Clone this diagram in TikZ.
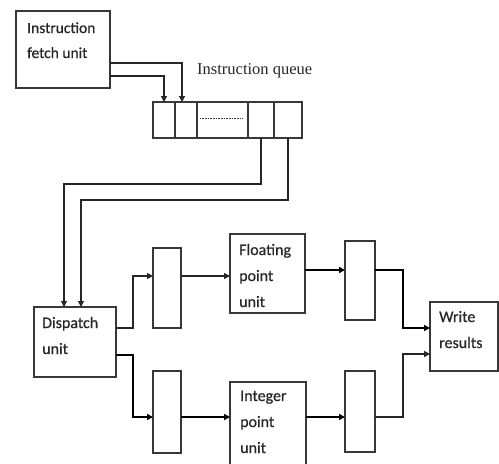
\documentclass[tikz,border=0pt]{standalone}
\usepackage{fontspec}
\setmainfont{Carlito}
\newfontfamily\lblfont[FakeBold=0.6]{Carlito}
\newfontfamily\queuefont{Liberation Serif}
\usetikzlibrary{arrows.meta,calc}
\definecolor{bx}{gray}{0.22}
\begin{document}
\begin{tikzpicture}[x=1pt,y=-1pt,
  box/.style={draw=bx,line width=1.2pt,inner sep=0pt,outer sep=0pt,anchor=north west},
  lbl/.style={anchor=base west,align=left,inner sep=0pt,text=black!85,font=\lblfont\fontsize{16}{26}\selectfont},
  arr/.style={draw=black!85,line width=1.2pt,-{Triangle[length=6pt,width=6pt]}},
  arrthick/.style={draw=black,line width=2pt,-{Triangle[length=6pt,width=6pt]}}]
\useasboundingbox (0,0) rectangle (499,464);
% boxes
\node[box,minimum width=94pt,minimum height=77pt] (fetch) at (16,11) {};
\node[box,minimum width=22pt,minimum height=36pt] (q1) at (153,102) {};
\node[box,minimum width=22pt,minimum height=36pt] (q2) at (175,102) {};
\node[box,minimum width=51pt,minimum height=36pt] (q3) at (197,102) {};
\node[box,minimum width=26pt,minimum height=36pt] (q4) at (248,102) {};
\node[box,minimum width=28pt,minimum height=36pt] (q5) at (274,102) {};
\node[box,minimum width=82pt,minimum height=70pt] (disp) at (34,307) {};
\node[box,minimum width=28pt,minimum height=80pt] (r1) at (153,248) {};
\node[box,minimum width=75pt,minimum height=79pt] (fp) at (230,234) {};
\node[box,minimum width=30pt,minimum height=79pt] (r2) at (345,241) {};
\node[box,minimum width=68pt,minimum height=69pt] (wr) at (430,302) {};
\node[box,minimum width=28pt,minimum height=82pt] (r3) at (153,371) {};
\node[box,minimum width=76pt,minimum height=100pt] (int) at (230,382) {};
\node[box,minimum width=30pt,minimum height=81pt] (r4) at (345,371) {};
% dotted mark in the middle queue cell
\draw[bx,line width=0.6pt,densely dotted] ($(q3.west)+(3,-2)$) coordinate (d1) -- ($(q3.east)+(-6,-2)$) coordinate (d2);
% labels (anchor = baseline of the last line)
\node[lbl,font=\lblfont\fontsize{15.5}{25}\selectfont] (tfetch) at (27,58) {Instruction\\fetch unit};
\node[anchor=base west,inner sep=0pt,text=black!85,font=\queuefont\fontsize{16.5}{20}\selectfont] (tqueue) at (197,74) {Instruction queue};
\node[lbl] (tdisp) at (42,354) {Dispatch\\unit};
\node[lbl] (tfp) at (239,307) {Floating\\point\\unit};
\node[lbl] (tint) at (240,453) {Integer\\point\\unit};
\node[lbl] (twr) at (439,348) {Write\\results};
% connectors
\draw[arr] ($(fetch.east)+(0,13.5)$) -| ($(q2.north)+(-4,0)$);
\draw[arr] ($(fetch.east)+(0,26.5)$) -| (q1.north);
\draw[arr] (q4.south) -- ++(0,46) -| ($(disp.north)+(-11,0)$);
\draw[arr] (q5.south) -- ++(0,62) -| ($(disp.north)+(6,0)$);
\draw[arr] ($(disp.east)+(0,-14)$) -- ++(17,0) |- ($(r1.west)+(0,-12)$);
\draw[arr] ($(r1.east)+(0,-12)$) coordinate (t1) -- (t1 -| fp.west);
\draw[arrthick] ($(fp.east)+(0,-3.5)$) coordinate (t2) -- (t2 -| r2.west);
\draw[arrthick] (t2 -| r2.east) -- ++(28,0) |- ($(wr.west)+(0,-8.5)$);
\draw[arrthick] ($(disp.east)+(0,13)$) -- ++(17,0) |- ($(r3.west)+(0,5)$);
\draw[arrthick] ($(r3.east)+(0,5)$) coordinate (t3) -- (t3 -| int.west);
\draw[arrthick] (t3 -| int.east) -- (t3 -| r4.west);
\draw[arr] (t3 -| r4.east) -- ++(28,0) |- ($(wr.west)+(0,17.5)$);
\end{tikzpicture}
\end{document}
